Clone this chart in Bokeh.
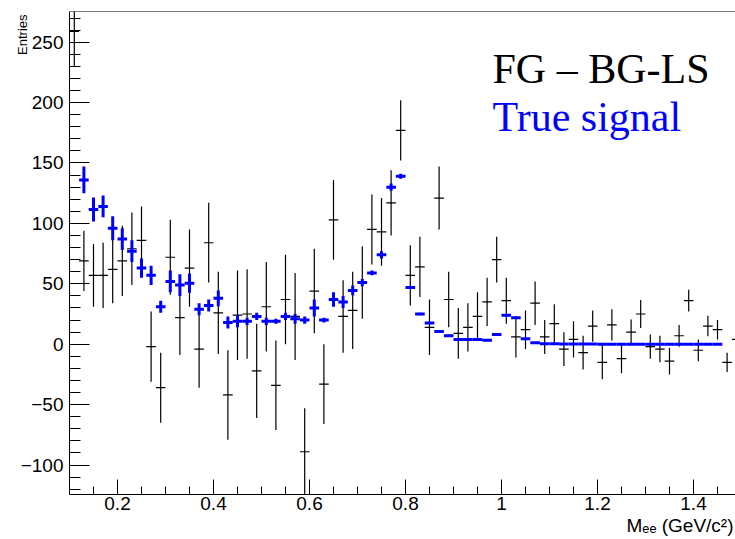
from bokeh.plotting import figure
from bokeh.models import (Range1d, FixedTicker, Span, Label, Title, CustomJSTickFormatter,
                          ColumnDataSource)
from bokeh.embed import file_html
from bokeh.resources import INLINE

# ---------------- data ----------------
bin_width = 0.02

fg_x = [0.11, 0.13, 0.15, 0.17, 0.19, 0.21, 0.23, 0.25, 0.27, 0.29,
        0.31, 0.33, 0.35, 0.37, 0.39, 0.41, 0.43, 0.45, 0.47, 0.49,
        0.51, 0.53, 0.55, 0.57, 0.59, 0.61, 0.63, 0.65, 0.67, 0.69,
        0.71, 0.73, 0.75, 0.77, 0.79, 0.81, 0.83, 0.85, 0.87, 0.89,
        0.91, 0.93, 0.95, 0.97, 0.99, 1.01, 1.03, 1.05, 1.07, 1.09,
        1.11, 1.13, 1.15, 1.17, 1.19, 1.21, 1.23, 1.25, 1.27, 1.29,
        1.31, 1.33, 1.35, 1.37, 1.39, 1.41, 1.43, 1.45, 1.47, 1.49]
fg_y = [259, 69, 57, 57, 62, 69, 79, 86, -2, -36,
        72, 22, 63, -4, 84, 26, -42, 24, 25, -22,
        31, -34, 37, 23, -89, 44, -33, 103, 23, 28,
        51, 95, 93, 117, 177, 57, 64, 14, 121, 37,
        9, 14, 23, 35, 70, 36, 6, 12, 34, 6,
        17, -4, 4, -7, 15, -15, 16, -12, 10, 25,
        -2, -4, -14, 7, 36, -5, 15, 12, -15, 4]
fg_err = [29, 25, 26, 27, 28, 29, 30, 28, 29, 29,
          31, 31, 32, 32, 33, 34, 37, 37, 37, 39,
          37, 37, 37, 36, 36, 35, 33, 33, 30, 32,
          30, 29, 28, 27, 25, 25, 25, 23, 26, 23,
          21, 20, 20, 20, 19, 19, 17, 16, 18, 14,
          16, 14, 15, 14, 13, 14, 13, 12, 10.5, 11.5,
          10, 11, 11, 9, 9, 9, 8.5, 8, 8, 8]

sig_x = [0.13, 0.15, 0.17, 0.19, 0.21, 0.23, 0.25, 0.27, 0.29, 0.31,
         0.33, 0.35, 0.37, 0.39, 0.41, 0.43, 0.45, 0.47, 0.49, 0.51,
         0.53, 0.55, 0.57, 0.59, 0.61, 0.63, 0.65, 0.67, 0.69, 0.71,
         0.73, 0.75, 0.77, 0.79, 0.81, 0.83, 0.85, 0.87, 0.89, 0.91,
         0.93, 0.95, 0.97, 0.99, 1.01, 1.03, 1.05, 1.07, 1.09, 1.11,
         1.13, 1.15, 1.17, 1.19, 1.21, 1.23, 1.25, 1.27, 1.29, 1.31,
         1.33, 1.35, 1.37, 1.39, 1.41, 1.43, 1.45]
sig_y = [136, 111.5, 114, 96, 87, 77, 63, 57, 31, 52,
         49, 50.5, 29, 32, 38, 18, 19, 19, 23, 19,
         19, 23, 21, 20, 30, 20, 37, 35, 44.5, 51,
         59, 74, 130, 139, 47, 25, 17.5, 10.5, 7, 4,
         4, 4, 3.3, 8, 24, 22, 4.5, 1.2, 0.4, 0.3,
         0.2, 0.2, 0.1, 0.1, 0, 0, 0, 0, 0, 0,
         0, 0, 0, 0, 0, 0, 0]
sig_err = [11, 10, 9, 10, 9, 9, 8, 8, 5, 9,
           9, 8, 5, 5, 6.5, 5, 5, 3, 3, 3,
           2, 3, 4, 3, 7, 2, 6, 5, 4, 3,
           2, 3, 3, 2, 1, 1, 1, 1, 1, 0.5,
           0.5, 0.5, 0.5, 0.5, 1, 1, 0.5, 0.3, 0.2, 0.2,
           0.1, 0.1, 0.1, 0.1, 0, 0, 0, 0, 0, 0,
           0, 0, 0, 0, 0, 0, 0]

x_major = [0.2, 0.4, 0.6, 0.8, 1.0, 1.2, 1.4]
x_minor = [0.15, 0.25, 0.3, 0.35, 0.45, 0.5, 0.55, 0.65, 0.7, 0.75, 0.85, 0.9,
           0.95, 1.05, 1.1, 1.15, 1.25, 1.3, 1.35, 1.45]
y_major = [-100, -50, 0, 50, 100, 150, 200, 250]
y_minor = [-120, -110, -90, -80, -70, -60, -40, -30, -20, -10, 10, 20, 30, 40,
           60, 70, 80, 90, 110, 120, 130, 140, 160, 170, 180, 190, 210, 220,
           230, 240, 260, 270]

X_START, X_END = 0.1, 1.4875
Y_START, Y_END = -124.4, 275.4

fg_label = "FG \u2013 BG-LS"
sig_label = "True signal"
x_title = "M\u2091\u2091 (GeV/c\u00b2)"
y_title = "Entries"


def make_source(xs, ys, errs):
    return ColumnDataSource(dict(
        xc=xs,
        xl=[x - bin_width / 2 for x in xs],
        xr=[x + bin_width / 2 for x in xs],
        y=ys,
        ylo=[y - e for y, e in zip(ys, errs)],
        yhi=[y + e for y, e in zip(ys, errs)],
    ))


p = figure(width=735, height=539,
           x_range=Range1d(X_START, X_END), y_range=Range1d(Y_START, Y_END),
           output_backend="svg", toolbar_location=None,
           min_border_left=69, min_border_right=0,
           min_border_top=11, min_border_bottom=45)
p.xgrid.visible = False
p.ygrid.visible = False
p.outline_line_color = None
p.background_fill_color = "white"
p.border_fill_color = "white"

fg_src = make_source(fg_x, fg_y, fg_err)
sig_src = make_source(sig_x, sig_y, sig_err)

p.segment(x0="xc", y0="ylo", x1="xc", y1="yhi", source=fg_src,
          line_color="black", line_width=1.2)
p.segment(x0="xl", y0="y", x1="xr", y1="y", source=fg_src,
          line_color="black", line_width=1.2)

p.segment(x0="xc", y0="ylo", x1="xc", y1="yhi", source=sig_src,
          line_color="#0000ff", line_width=3)
p.segment(x0="xl", y0="y", x1="xr", y1="y", source=sig_src,
          line_color="#0000ff", line_width=3)

# axes
tick_font = "Liberation Sans"
for ax in p.xaxis:
    ax.ticker = FixedTicker(ticks=x_major, minor_ticks=x_minor)
    ax.formatter = CustomJSTickFormatter(
        code="return Math.abs(tick - Math.round(tick)) < 1e-9 ? String(Math.round(tick)) : tick.toFixed(1);")
    ax.major_tick_in = 15
    ax.major_tick_out = 0
    ax.minor_tick_in = 8
    ax.minor_tick_out = 0
    ax.axis_line_color = "black"
    ax.major_tick_line_color = "black"
    ax.minor_tick_line_color = "black"
    ax.major_label_text_font = tick_font
    ax.major_label_text_font_size = "19px"
    ax.major_label_text_color = "black"
    ax.major_label_standoff = 2

for ax in p.yaxis:
    ax.ticker = FixedTicker(ticks=y_major, minor_ticks=y_minor)
    ax.formatter = CustomJSTickFormatter(
        code="return tick < 0 ? '\u2212' + Math.abs(tick) : String(tick);")
    ax.major_tick_in = 20
    ax.major_tick_out = 0
    ax.minor_tick_in = 11
    ax.minor_tick_out = 0
    ax.axis_line_color = "black"
    ax.major_tick_line_color = "black"
    ax.minor_tick_line_color = "black"
    ax.major_label_text_font = tick_font
    ax.major_label_text_font_size = "19px"
    ax.major_label_text_color = "black"
    ax.major_label_standoff = 6

# top frame line
p.add_layout(Span(location=Y_END, dimension="width", line_color="black", line_width=1))

# axis titles
p.add_layout(Title(text=x_title, align="right", text_font=tick_font,
                   text_font_size="19px", text_font_style="normal",
                   text_color="black", standoff=0, offset=2), "below")
p.add_layout(Title(text=y_title, align="right", text_font=tick_font,
                   text_font_size="13px", text_font_style="normal",
                   text_color="black", standoff=-25, offset=3), "left")

# legend texts
p.add_layout(Label(x=X_END, y=Y_END, x_offset=-243, y_offset=-57,
                   text=fg_label, text_align="left", text_baseline="alphabetic",
                   text_font="Liberation Serif", text_font_size="42px", text_color="black"))
p.add_layout(Label(x=X_END, y=Y_END, x_offset=-243, y_offset=-105,
                   text=sig_label, text_align="left", text_baseline="alphabetic",
                   text_font="Liberation Serif", text_font_size="42px", text_color="#0000ff"))

open("out.html", "w").write(file_html(p, INLINE))
